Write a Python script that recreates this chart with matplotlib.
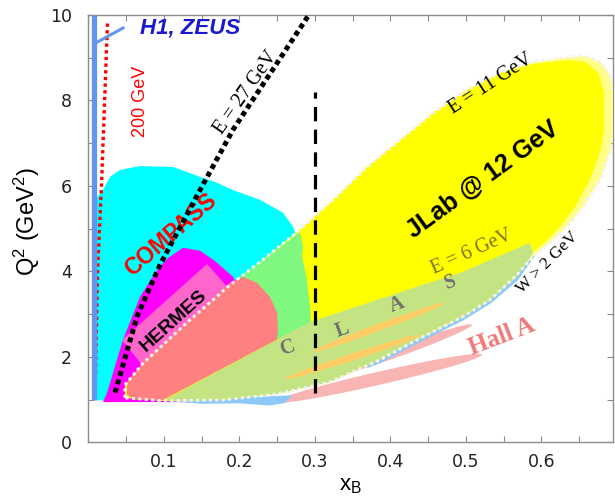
import numpy as np
import matplotlib
matplotlib.use("Agg")
import matplotlib.pyplot as plt
from matplotlib.patches import Polygon

plt.rcParams['mathtext.fontset'] = 'custom'
plt.rcParams['mathtext.rm'] = 'Liberation Sans'
plt.rcParams['mathtext.it'] = 'Liberation Sans:italic'
SANS = ['Liberation Sans', 'DejaVu Sans']
SERIF = ['Liberation Serif', 'DejaVu Serif']

# ---- region outlines (x_B, Q^2) ----
compass_x = [0.0086, 0.0086, 0.0192, 0.0285, 0.0417, 0.0682, 0.1119, 0.1477, 0.1702, 0.1914,
             0.2272, 0.2576, 0.2709, 0.2801, 0.2801, 0.214, 0.148, 0.042]
compass_y = [0.99, 5.67, 5.90, 6.21, 6.37, 6.46, 6.44, 6.21, 6.07, 5.90,
             5.67, 5.37, 5.04, 4.62, 3.33, 1.93, 1.11, 0.94]

hermes_x = [0.0192, 0.0245, 0.0325, 0.0457, 0.0682, 0.0907, 0.1053, 0.1252, 0.1477, 0.1675,
            0.1914, 0.2073, 0.2007, 0.1477]
hermes_y = [0.94, 1.15, 1.62, 2.40, 3.40, 4.03, 4.31, 4.55, 4.48, 4.24,
            3.87, 3.33, 1.93, 0.94]

hermes_box_x = [0.0444, 0.1570, 0.1861, 0.0709]
hermes_box_y = [2.39, 4.17, 3.59, 1.81]

jlab12_x = [0.0483, 0.0483, 0.0722, 0.1344, 0.1874, 0.2272, 0.2801, 0.3238, 0.3689, 0.4126,
            0.4563, 0.5013, 0.5450, 0.5887, 0.6338, 0.6576, 0.6775, 0.6907, 0.6960, 0.6960,
            0.6907, 0.6775, 0.6550, 0.6338, 0.6113, 0.5887, 0.5675, 0.5318, 0.4960, 0.4656,
            0.4298, 0.3861, 0.3199, 0.2497, 0.1781, 0.0987]
jlab12_y = [1.04, 1.34, 1.85, 2.86, 3.68, 4.22, 4.97, 5.67, 6.44, 7.07,
            7.70, 8.24, 8.64, 8.90, 9.01, 9.04, 8.90, 8.60, 8.12, 7.31,
            6.77, 6.14, 5.50, 5.04, 4.67, 4.34, 3.92, 3.33, 2.94, 2.67,
            2.35, 1.93, 1.41, 1.13, 0.99, 0.97]

# inner (bright) part of the 12 GeV region
jlab12_in_x = [0.0483, 0.0483, 0.0722, 0.1344, 0.1874, 0.2272, 0.2801, 0.3238, 0.3689, 0.4126,
               0.4563, 0.5013, 0.5450, 0.5887, 0.6338, 0.6576, 0.6748, 0.6828, 0.6828, 0.6775,
               0.6642, 0.6444, 0.6245, 0.6046, 0.5848, 0.5675, 0.5318, 0.4960, 0.4656,
               0.4298, 0.3861, 0.3199, 0.2497, 0.1781, 0.0987]
jlab12_in_y = [1.04, 1.34, 1.85, 2.86, 3.68, 4.22, 4.97, 5.67, 6.44, 7.07,
               7.70, 8.24, 8.64, 8.85, 8.94, 8.90, 8.66, 8.19, 7.31, 6.77,
               6.14, 5.50, 5.04, 4.67, 4.39, 3.92, 3.33, 2.94, 2.67,
               2.35, 1.93, 1.41, 1.13, 0.99, 0.97]

green_x = [0.1874, 0.2272, 0.2801, 0.2841, 0.2828, 0.2894, 0.2934, 0.2947, 0.2497, 0.2007]
green_y = [3.68, 4.22, 4.92, 4.57, 4.34, 3.80, 3.17, 2.81, 2.40, 3.33]

salmon_x = [0.0616, 0.0510, 0.0510, 0.0722, 0.1344, 0.1874, 0.2046, 0.2232, 0.2404, 0.2497,
            0.2510, 0.2497, 0.0987]
salmon_y = [0.99, 1.11, 1.39, 1.85, 2.86, 3.73, 3.87, 3.73, 3.40, 3.03,
            2.63, 2.40, 0.99]

clas6_x = [0.0987, 0.1781, 0.2497, 0.3199, 0.3861, 0.4298, 0.4656, 0.4960, 0.5318, 0.5675,
           0.5887, 0.5848, 0.4921, 0.4298, 0.2934, 0.2497]
clas6_y = [0.97, 0.99, 1.13, 1.41, 1.93, 2.35, 2.67, 2.94, 3.33, 3.87,
           4.43, 4.67, 3.96, 3.61, 2.81, 2.40]

blue_edge_x = [0.3700, 0.3861, 0.4298, 0.4656, 0.4960, 0.5318, 0.5675, 0.5887]
blue_edge_y = [1.78, 1.89, 2.30, 2.62, 2.89, 3.28, 3.82, 4.36]
blue_low_x = [0.10, 0.15, 0.20, 0.24, 0.26, 0.27]
blue_low_y = [0.97, 0.90, 0.91, 0.86, 0.92, 1.10]

# thin ellipses: (x1, y1, x2, y2)
clas_orange = [(0.2960, 2.11, 0.4722, 3.26), (0.2603, 1.48, 0.4391, 2.51)]
halla = [(0.3265, 1.58, 0.5079, 2.75), (0.2470, 0.94, 0.5212, 2.05)]

# kinematic lines
e27_x = [0.0351, 0.0642, 0.0947, 0.1477, 0.1914, 0.2894, 0.3000]
e27_y = [1.16, 2.94, 4.15, 5.90, 7.31, 9.93, 10.20]
e200_x = [0.0086, 0.0120, 0.0172, 0.0252]
e200_y = [0.99, 4.0, 6.00, 9.83]
hera_x = [0.0073, 0.0073]
hera_y = [0.99, 10.0]
hera_arrow_x = [0.0457, 0.0126]
hera_arrow_y = [9.69, 9.37]
x_cut = 0.3
x_cut_y = [1.15, 8.19]

x_ticks = np.round(np.arange(0, 0.70, 0.05), 2)
y_ticks = np.arange(0, 11, 1)

fig = plt.figure(figsize=(6.15, 4.97), dpi=100)
ax = fig.add_axes([0.1439, 0.1101, 0.8528, 0.8602])
ax.set_xlim(0, 0.6947)
ax.set_ylim(0, 10)


def poly(xs, ys, color, z):
    p = Polygon(np.column_stack([xs, ys]), closed=True, facecolor=color,
                edgecolor='none', zorder=z)
    ax.add_patch(p)
    return p


def thin_ellipse(x1, y1, x2, y2, width_px, color, z):
    p1 = ax.transData.transform((x1, y1))
    p2 = ax.transData.transform((x2, y2))
    c = (p1 + p2) / 2
    d = p2 - p1
    half = np.hypot(*d) / 2
    u = d / np.hypot(*d)
    v = np.array([-u[1], u[0]])
    t = np.linspace(0, 2 * np.pi, 120)
    pts = c + np.outer(half * np.cos(t), u) + np.outer(width_px / 2 * np.sin(t), v)
    pts = ax.transData.inverted().transform(pts)
    poly(pts[:, 0], pts[:, 1], color, z)


poly(compass_x, compass_y, '#00ffff', 1)
poly(hermes_x, hermes_y, '#ff00ff', 2)
poly(hermes_box_x, hermes_box_y, '#ff66cc', 3)
for e, w in zip(halla, [10, 13]):
    thin_ellipse(*e, w, '#f9b4b4', 3)
ax.plot(blue_edge_x, blue_edge_y, color='#8cc8f8', lw=2.2, zorder=3, solid_capstyle='round')
poly(blue_low_x, blue_low_y, '#8cc8f8', 3)
poly(jlab12_x, jlab12_y, '#ffff88', 4)
poly(jlab12_in_x, jlab12_in_y, '#ffff00', 4.1)
poly(green_x, green_y, '#80f880', 5)
poly(salmon_x, salmon_y, '#ff8080', 6)
poly(clas6_x, clas6_y, '#c4e484', 7)
for e in clas_orange:
    thin_ellipse(*e, 7, '#ffcc66', 8)

# white dotted outline of the 12 GeV region
ax.add_patch(Polygon(np.column_stack([jlab12_x, jlab12_y]), closed=True, fill=False,
                     edgecolor='#f2f2f2', lw=2.2, linestyle=(0, (1, 1.1)), zorder=9))

ax.plot([x_cut, x_cut], x_cut_y, color='black', lw=2.3, dashes=(4.5, 2.6), zorder=10)
ax.plot(e27_x, e27_y, color='black', lw=3.6, dashes=(1, 0.75), zorder=10,
        dash_capstyle='butt')
ax.plot(e200_x, e200_y, color='#ff0000', lw=2.4, dashes=(1, 1), zorder=10)
ax.plot(hera_x, hera_y, color='#6495ed', lw=3.8, zorder=10, solid_capstyle='butt', clip_on=False)
ax.plot(hera_arrow_x, hera_arrow_y, color='#6495ed', lw=2.2, zorder=10)

# labels inside the plot
ax.text(0.1344, 9.69, 'H1, ZEUS', color='#1a1acc', fontsize=16, fontweight='bold',
        style='italic', family=SANS, ha='center', va='center', zorder=11)
ax.text(0.0695, 7.98, '200 GeV', color='#ff0000', fontsize=13, rotation=90,
        family=SANS, ha='center', va='center', zorder=11)
ax.text(0.2088, 8.17, 'E = 27 GeV', fontsize=14.5, rotation=55, family=SERIF,
        ha='center', va='center', zorder=11)
ax.text(0.1093, 4.85, 'COMPASS', color='#ff0000', fontsize=16.5, fontweight='bold',
        rotation=41, family=SANS, ha='center', va='center', zorder=9.5)
ax.text(0.1126, 2.83, 'HERMES', fontsize=14, fontweight='bold', rotation=42,
        family=SANS, ha='center', va='center', zorder=11)
ax.text(0.522, 6.14, 'JLab @ 12 GeV', fontsize=18, fontweight='bold', rotation=36,
        family=SANS, ha='center', va='center', zorder=11)
ax.text(0.5327, 8.39, 'E = 11 GeV', fontsize=14.5, rotation=33, family=SERIF,
        ha='center', va='center', zorder=11)
ax.text(0.5075, 4.44, 'E = 6 GeV', color='#807020', fontsize=14.5, rotation=24,
        family=SERIF, ha='center', va='center', zorder=11)
ax.text(0.6077, 4.21, 'W > 2 GeV', fontsize=12.5, rotation=45, family=SERIF,
        ha='center', va='center', zorder=11)
ax.text(0.5473, 2.47, 'Hall A', color='#f07878', fontsize=18, fontweight='bold',
        rotation=21, family=SERIF, ha='center', va='center', zorder=11)
for ch, cx, cy in zip('CLAS', [0.2643, 0.3358, 0.4086, 0.4788], [2.21, 2.63, 3.21, 3.73]):
    ax.text(cx, cy, ch, color='#707070', fontsize=14.5, fontweight='bold', rotation=20,
            family=SERIF, ha='center', va='center', zorder=11)

# axes styling
for s in ax.spines.values():
    s.set_color('#8c8c8c')
    s.set_linewidth(1)
ax.set_xticks(x_ticks)
ax.set_xticklabels([f'{t:.1f}' if (round(t * 10) == t * 10 and t > 0) else '' for t in x_ticks])
ax.set_yticks(y_ticks)
ax.set_yticklabels([str(t) if t % 2 == 0 else '' for t in y_ticks])
ax.tick_params(direction='in', top=True, right=True, length=4, width=0.8, color='#8c8c8c',
               labelsize=12.5, labelcolor='#222222')
ax.tick_params(axis='y', pad=12)
ax.tick_params(axis='x', pad=8)

ax.text(-0.117, 0.515, r'Q$^2$ (GeV$^2$)', transform=ax.transAxes, rotation=90,
        fontsize=17, family=SANS, ha='center', va='center')
ax.text(0.4986, -0.10, r'x$_\mathrm{B}$', transform=ax.transAxes,
        fontsize=16, family=SANS, ha='center', va='center')

fig.savefig('out.png', dpi=100)
